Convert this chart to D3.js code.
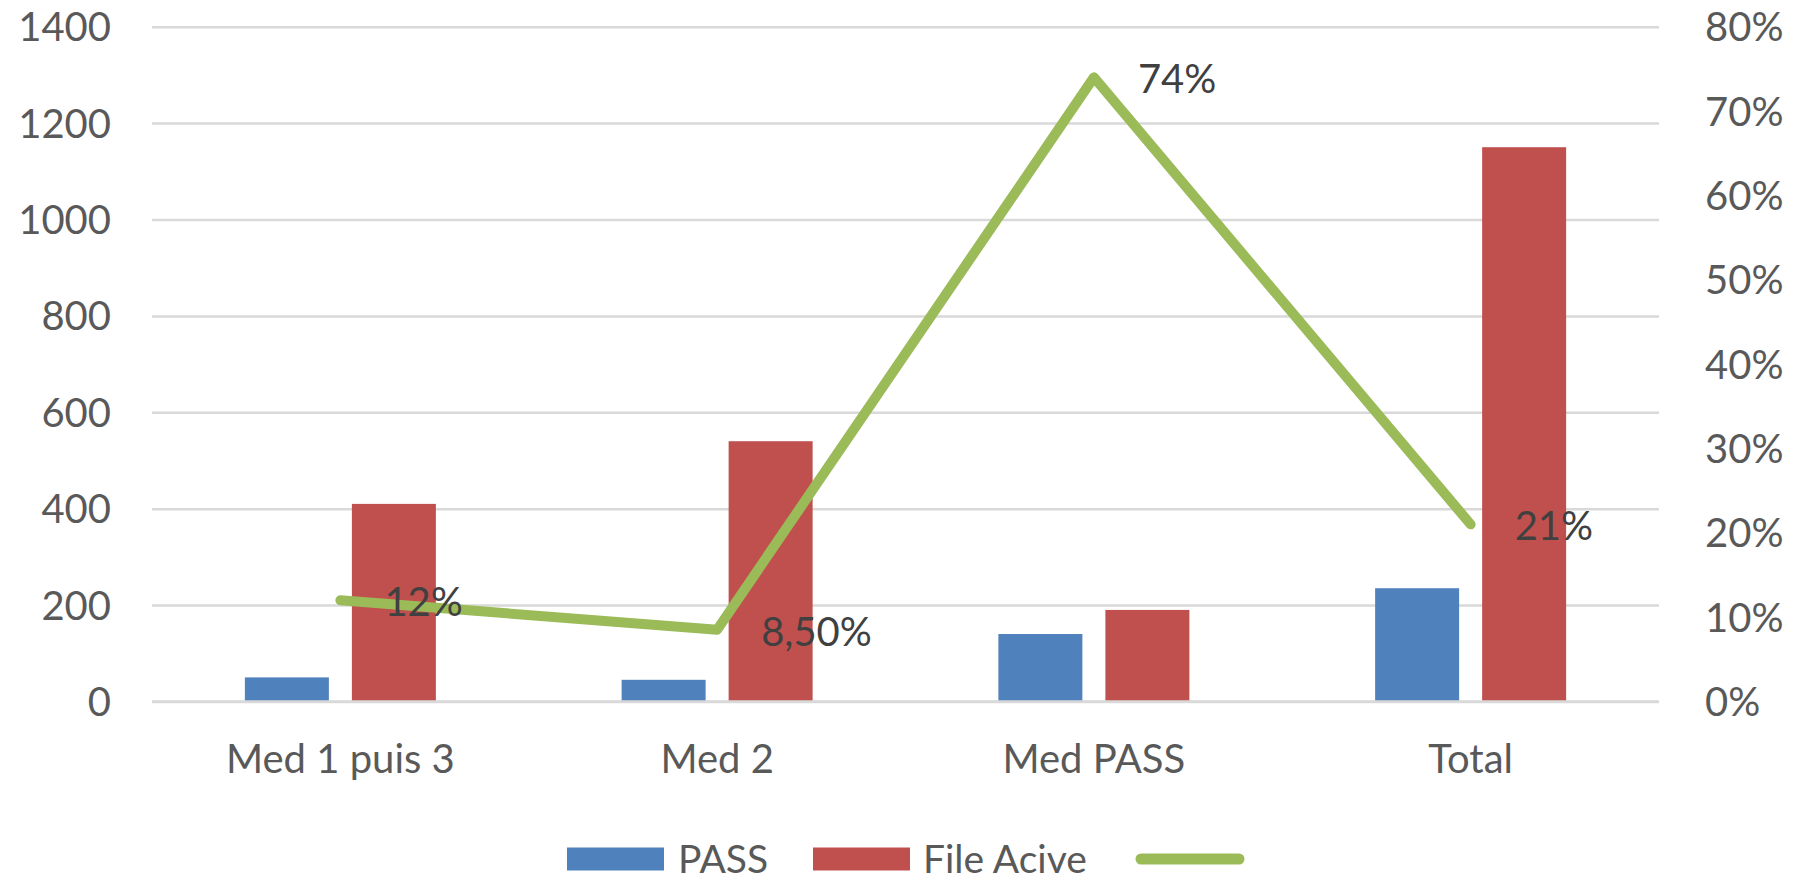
<!DOCTYPE html>
<html>
<head>
<meta charset="utf-8">
<script src="https://cdn.jsdelivr.net/npm/d3@7"></script>
<style>
  html, body { margin: 0; padding: 0; background: #ffffff; }
  svg { display: block; }
  text { font-family: Lato, "Open Sans", sans-serif; }
</style>
</head>
<body>
<svg id="chart" width="1798" height="882"></svg>
<script>
// ---- Data ----
const categories = ["Med 1 puis 3", "Med 2", "Med PASS", "Total"];
const seriesNames = ["PASS", "File Acive"];
const passValues = [50, 45, 140, 235];
const fileActiveValues = [410, 540, 190, 1150];
const rateValues = [0.12, 0.085, 0.74, 0.21];
const rateLabels = ["12%", "8,50%", "74%", "21%"];
const leftTicks = [0, 200, 400, 600, 800, 1000, 1200, 1400];
const rightTicks = [0, 0.1, 0.2, 0.3, 0.4, 0.5, 0.6, 0.7, 0.8];

const colors = { "PASS": "#4f81bd", "File Acive": "#c0504d", line: "#9bbb59" };

const svg = d3.select("#chart");
const plot = { left: 152, right: 1659, top: 26.7, bottom: 701.5 };

const x0 = d3.scaleBand().domain(categories).range([plot.left, plot.right]).padding(0);
const x1 = d3.scaleBand().domain(seriesNames).range([0, x0.bandwidth()])
  .paddingInner(0.215).paddingOuter(0.868);
const yL = d3.scaleLinear().domain([0, 1400]).range([plot.bottom, plot.top]);
const yR = d3.scaleLinear().domain([0, 0.8]).range([plot.bottom, plot.top]);

// gridlines
const grid = svg.append("g").attr("transform", `translate(${plot.left},0)`)
  .call(d3.axisLeft(yL).tickValues(leftTicks).tickSize(-(plot.right - plot.left)).tickFormat(""));
grid.select(".domain").remove();
grid.selectAll("line").attr("stroke", "#d9d9d9").attr("stroke-width", 2.5);

// left axis labels
const axL = svg.append("g").attr("transform", `translate(111,0)`)
  .call(d3.axisLeft(yL).tickValues(leftTicks).tickSize(0).tickPadding(0).tickFormat(d3.format("d")));
axL.select(".domain").remove();
axL.selectAll("text").attr("fill", "#595959").style("font-size", "40px")
  .attr("font-family", "Lato, sans-serif").attr("dy", "0.35em");

// right axis labels
const axR = svg.append("g").attr("transform", `translate(1705,0)`)
  .call(d3.axisRight(yR).tickValues(rightTicks).tickSize(0).tickPadding(0).tickFormat(d3.format(".0%")));
axR.select(".domain").remove();
axR.selectAll("text").attr("fill", "#595959").style("font-size", "40px")
  .attr("font-family", "Lato, sans-serif").attr("dy", "0.35em");

// category labels
const axX = svg.append("g").attr("transform", `translate(0,${plot.bottom})`)
  .call(d3.axisBottom(x0).tickSize(0).tickPadding(0));
axX.select(".domain").remove();
axX.selectAll("text").attr("fill", "#595959").style("font-size", "40px")
  .attr("font-family", "Lato, sans-serif").attr("y", 57).attr("dy", "0.35em");

// bars
const barData = categories.map((c, i) => ({ cat: c, vals: [
  { name: "PASS", v: passValues[i] }, { name: "File Acive", v: fileActiveValues[i] } ] }));
const groups = svg.append("g").selectAll("g").data(barData).join("g")
  .attr("transform", d => `translate(${x0(d.cat)},0)`);
groups.selectAll("rect").data(d => d.vals).join("rect")
  .attr("x", d => x1(d.name))
  .attr("width", x1.bandwidth())
  .attr("y", d => yL(d.v))
  .attr("height", d => yL(0) - yL(d.v))
  .attr("fill", d => colors[d.name]);

// baseline
svg.append("line").attr("x1", plot.left).attr("x2", plot.right)
  .attr("y1", plot.bottom).attr("y2", plot.bottom)
  .attr("stroke", "#d9d9d9").attr("stroke-width", 2.5);

// line
const cx = c => x0(c) + x0.bandwidth() / 2;
const lineGen = d3.line().x((d, i) => cx(categories[i])).y(d => yR(d));
svg.append("path").datum(rateValues).attr("d", lineGen)
  .attr("fill", "none").attr("stroke", colors.line).attr("stroke-width", 10)
  .attr("stroke-linecap", "round").attr("stroke-linejoin", "round");

// data labels
svg.append("g").selectAll("text").data(rateValues).join("text")
  .attr("x", (d, i) => cx(categories[i]) + 44)
  .attr("y", d => yR(d) + 2)
  .attr("dy", "0.35em")
  .attr("fill", "#404040")
  .style("font-size", "40px")
  .text((d, i) => rateLabels[i]);

// legend
const legend = svg.append("g");
const legendY = 859;
const legItems = [
  { name: "PASS", sx: 567, tx: 678 },
  { name: "File Acive", sx: 813, tx: 923 }
];
legend.selectAll("rect").data(legItems).join("rect")
  .attr("x", d => d.sx).attr("y", legendY - 11.5).attr("width", 97).attr("height", 23)
  .attr("fill", d => colors[d.name]);
legend.selectAll("text").data(legItems).join("text")
  .attr("x", d => d.tx).attr("y", legendY).attr("dy", "0.35em")
  .attr("fill", "#595959").style("font-size", "39px").text(d => d.name);
legend.append("line").attr("x1", 1141).attr("x2", 1239).attr("y1", legendY).attr("y2", legendY)
  .attr("stroke", colors.line).attr("stroke-width", 11).attr("stroke-linecap", "round");
</script>
</body>
</html>
